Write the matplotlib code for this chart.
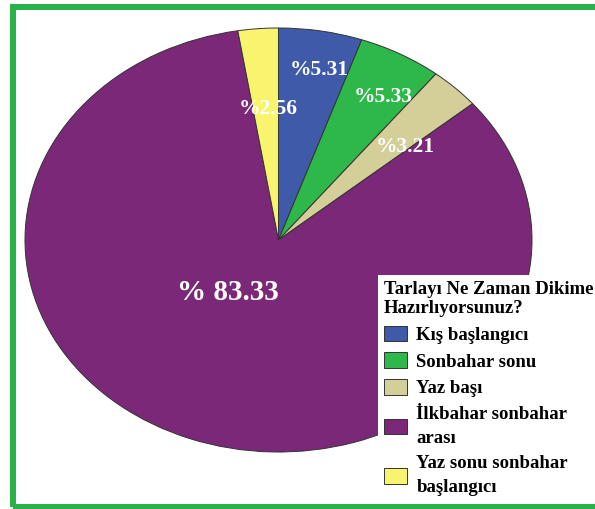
import numpy as np
import matplotlib
matplotlib.use("Agg")
import matplotlib.pyplot as plt
from matplotlib.patches import Rectangle

plt.rcParams['font.family'] = ['Liberation Serif', 'DejaVu Serif']

# slices, clockwise from the top
categories = ["Kış başlangıcı", "Sonbahar sonu", "Yaz başı",
              "İlkbahar sonbahar\narası", "Yaz sonu sonbahar\nbaşlangıcı"]
values = [5.31, 5.33, 3.21, 83.33, 2.56]
pct_labels = ["%5.31", "%5.33", "%3.21", "% 83.33", "%2.56"]
colors = ["#405AAA", "#2EB84A", "#D4CE98", "#7B2879", "#F9F46E"]
legend_title = "Tarlayı Ne Zaman Dikime\nHazırlıyorsunuz?"

W, H = 595, 509
fig = plt.figure(figsize=(W / 100, H / 100), dpi=100)
ax = fig.add_axes([25 / W, 57 / H, 507 / W, 424 / H])

wedges, _ = ax.pie(values, colors=colors, startangle=90, counterclock=False,
                   wedgeprops=dict(edgecolor="#333333", linewidth=0.7))
ax.set_aspect('auto')
ax.set_xlim(-1, 1)
ax.set_ylim(-1, 1)

# label placement (radius, angle shift from wedge middle)
lab_r = [0.816, 0.79, 0.666, 0.316, 0.62]
lab_dt = [-1.8, -2.7, -4.5, -18.6, -1.0]
lab_fs = [15.5, 15.5, 15.5, 21, 15.5]
for w, txt, r, dt, fs in zip(wedges, pct_labels, lab_r, lab_dt, lab_fs):
    a = np.deg2rad((w.theta1 + w.theta2) / 2 + dt)
    ax.text(r * np.cos(a), r * np.sin(a), txt, color="white", fontsize=fs,
            fontweight="bold", ha="center", va="center")

leg = fig.legend(wedges, categories, title=legend_title, loc="upper left",
                 bbox_to_anchor=(378 / W, 1 - 275 / H), borderaxespad=0,
                 frameon=True, fancybox=False, framealpha=1, facecolor="white",
                 edgecolor="none", borderpad=0.3, handlelength=1.25,
                 handleheight=0.9, handletextpad=0.5, labelspacing=0.45,
                 alignment="left",
                 prop=dict(family="Liberation Serif", weight="bold", size=13.5),
                 title_fontproperties=dict(family="Liberation Serif", weight="bold", size=13.5))
for t in leg.get_texts():
    t.set_linespacing(1.55)

# green frame (right side runs off the picture)
fig.patches.append(Rectangle((13 / W, 2.5 / H), 1.0, 1 - 9 / H,
                             transform=fig.transFigure, fill=False,
                             edgecolor="#27B24A", linewidth=4.3, zorder=1))

fig.savefig("out.png", dpi=100)
